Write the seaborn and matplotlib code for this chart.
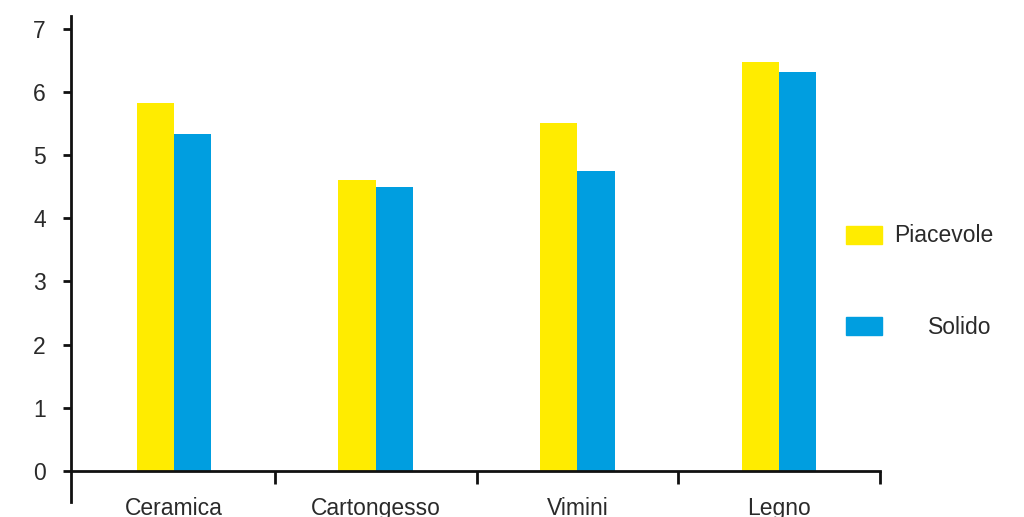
import pandas as pd
import matplotlib.pyplot as plt
import matplotlib.patches as mpatches
import seaborn as sns


sns.set_style("white")
plt.rcParams["font.family"] = ["Liberation Sans", "DejaVu Sans"]


materiali = ["Ceramica", "Cartongesso", "Vimini", "Legno"]
piacevole = [5.82, 4.60, 5.51, 6.48]
solido = [5.34, 4.50, 4.74, 6.31]
serie = ["Piacevole", "Solido"]
colori = ["#FFEC00", "#009EE0"]

df = pd.DataFrame({
    "Materiale": materiali * 2,
    "Valore": piacevole + solido,
    "Serie": [serie[0]] * len(materiali) + [serie[1]] * len(materiali),
})

fs = 16.5
txt = "#2a2a2a"

fig = plt.figure(figsize=(10.24, 5.17), dpi=100)
ax = fig.add_axes([71 / 1024, 1 - 502 / 517, (880 - 71) / 1024, (502 - 16) / 517])

sns.barplot(ax=ax, data=df, x="Materiale", y="Valore", hue="Serie",
            palette=colori, width=0.37, saturation=1, legend=False,
            linewidth=0, edgecolor="none")

ax.set_xlim(-0.51, 3.5)
ax.set_ylim(-0.49, 7.2)
ax.set_yticks(range(0, 8))
ax.set_xlabel("")
ax.set_ylabel("")

for s in ["top", "right"]:
    ax.spines[s].set_visible(False)
ax.spines["left"].set_linewidth(2)
ax.spines["left"].set_color("#111111")
ax.spines["bottom"].set_position(("data", 0))
ax.spines["bottom"].set_linewidth(2)
ax.spines["bottom"].set_color("#111111")

ax.tick_params(axis="y", direction="out", length=6, width=2, color="#111111",
               pad=12, labelsize=fs, labelcolor=txt, left=True)
ax.set_xticks([0.5, 1.5, 2.5, 3.5], minor=True)
ax.tick_params(axis="x", which="minor", direction="out", length=9.5, width=2,
               color="#111111", bottom=True)
ax.tick_params(axis="x", which="major", length=0, pad=19, labelsize=fs,
               labelcolor=txt)

# legenda: due voci separate per allineare il testo a destra come nell'originale
h1 = mpatches.Patch(color=colori[0])
h2 = mpatches.Patch(color=colori[1])
leg1 = fig.legend([h1], [serie[0]], loc="center left",
                  bbox_to_anchor=(846 / 1024, 1 - 236 / 517), frameon=False,
                  fontsize=fs, labelcolor=txt, handlelength=1.57,
                  handleheight=0.83, handletextpad=0.52, borderpad=0,
                  borderaxespad=0)
leg2 = fig.legend([h2], [serie[1]], loc="center left",
                  bbox_to_anchor=(846 / 1024, 1 - 327 / 517), frameon=False,
                  fontsize=fs, labelcolor=txt, handlelength=1.57,
                  handleheight=0.83, handletextpad=2.0, borderpad=0,
                  borderaxespad=0)

fig.savefig("out.png", dpi=100)
